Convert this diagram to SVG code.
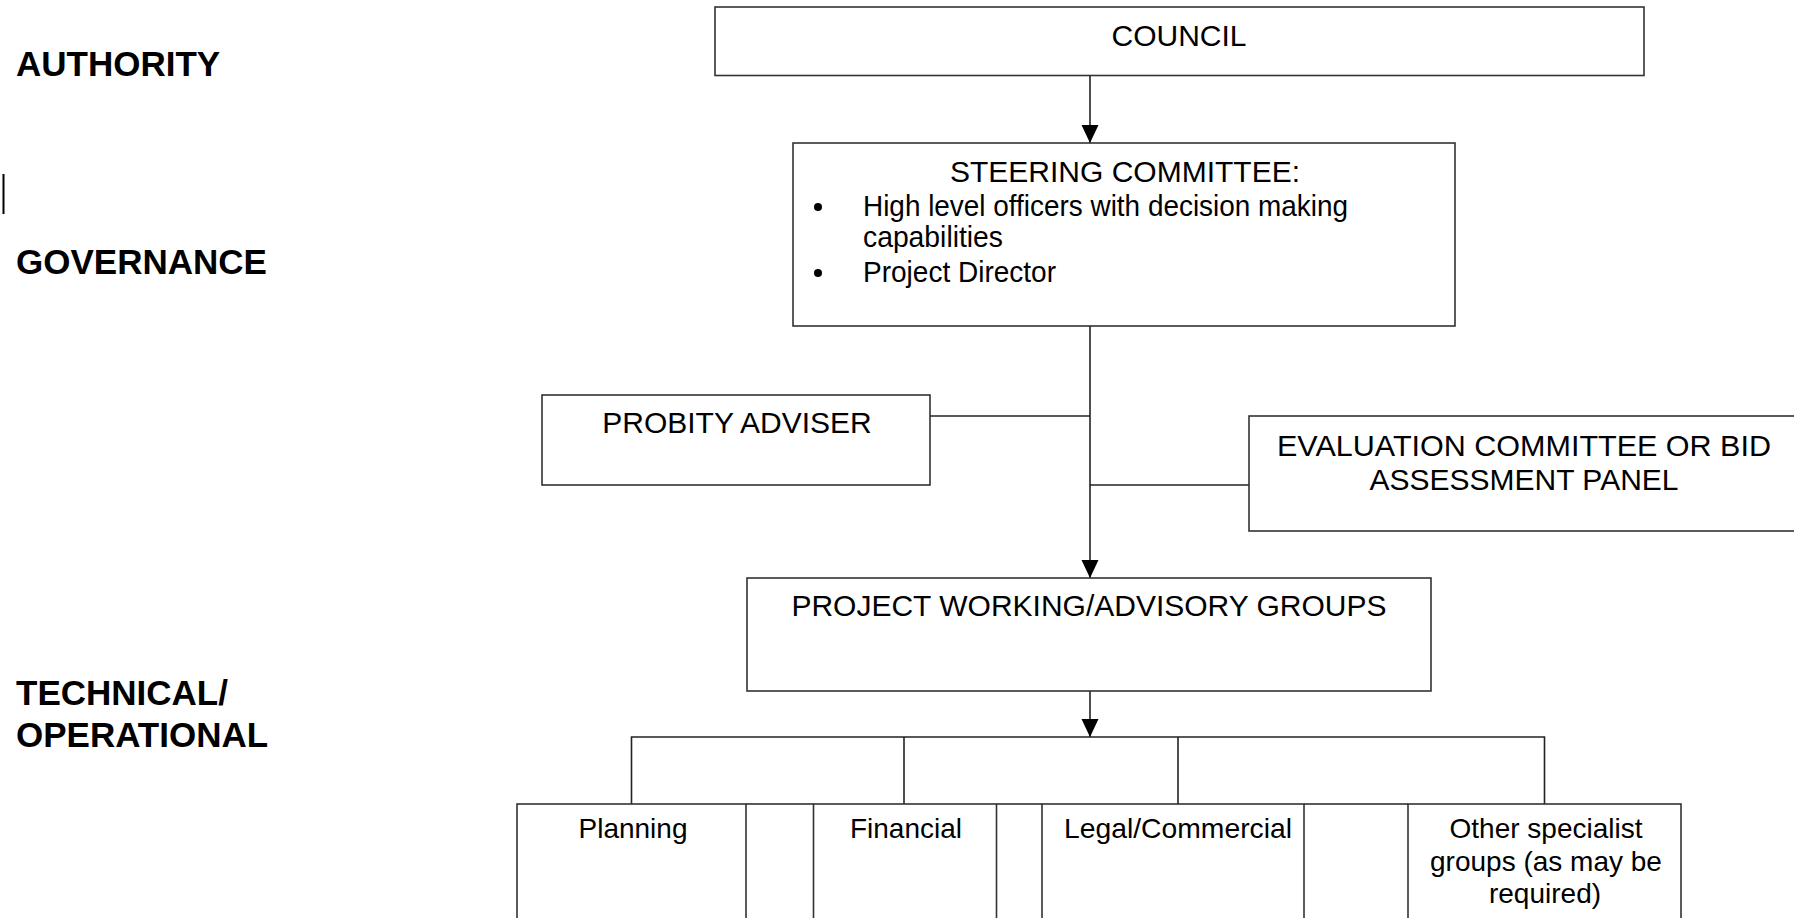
<svg xmlns="http://www.w3.org/2000/svg" width="1794" height="918" viewBox="0 0 1794 918">
<style>
.box{fill:#fff;stroke:#333;stroke-width:1.6}
.ln{fill:none;stroke:#222;stroke-width:1.6}
.t{font-family:"Liberation Sans",Arial,sans-serif;font-size:30px;fill:#000}
.c{text-anchor:middle}
.s{font-size:28px}
.lab{font-family:"Liberation Sans",Arial,sans-serif;font-size:35px;font-weight:bold;fill:#000}
</style>
<defs>
<marker id="arr" markerUnits="userSpaceOnUse" markerWidth="18" markerHeight="20" viewBox="0 0 18 20" refX="18" refY="8.5" orient="auto">
<path d="M0,0 L18,8.5 L0,17 Z" fill="#000"/>
</marker>
</defs>
<g id="labels">
<text class="lab" x="16" y="76">AUTHORITY</text>
<rect x="2.5" y="174" width="2" height="40" fill="#000"/>
<text class="lab" x="16" y="274">GOVERNANCE</text>
<text class="lab" x="16" y="705">TECHNICAL/</text>
<text class="lab" x="16" y="747">OPERATIONAL</text>
</g>
<g id="connectors">
<line class="ln" x1="1090" y1="75.5" x2="1090" y2="143" marker-end="url(#arr)"/>
<line class="ln" x1="1090" y1="326" x2="1090" y2="578" marker-end="url(#arr)"/>
<line class="ln" x1="930" y1="416" x2="1090" y2="416"/>
<line class="ln" x1="1090" y1="485" x2="1249" y2="485"/>
<line class="ln" x1="1090" y1="691" x2="1090" y2="737" marker-end="url(#arr)"/>
<polyline class="ln" points="631.5,804 631.5,737 1544.5,737 1544.5,804"/>
<line class="ln" x1="904" y1="737" x2="904" y2="804"/>
<line class="ln" x1="1178" y1="737" x2="1178" y2="804"/>
</g>
<g id="council">
<rect class="box" x="715" y="7" width="929" height="68.5"/>
<text class="t c" x="1179" y="46">COUNCIL</text>
</g>
<g id="steering">
<rect class="box" x="793" y="143" width="662" height="183"/>
<text class="t c" x="1125" y="182">STEERING COMMITTEE:</text>
<circle cx="818" cy="207" r="4" fill="#000"/>
<text class="t" x="863" y="216" textLength="485" lengthAdjust="spacingAndGlyphs">High level officers with decision making</text>
<text class="t" x="863" y="247" textLength="140" lengthAdjust="spacingAndGlyphs">capabilities</text>
<circle cx="818" cy="273" r="4" fill="#000"/>
<text class="t" x="863" y="282" textLength="193" lengthAdjust="spacingAndGlyphs">Project Director</text>
</g>
<g id="probity">
<rect class="box" x="542" y="395" width="388" height="90"/>
<text class="t c" x="737" y="433">PROBITY ADVISER</text>
</g>
<g id="evaluation">
<rect class="box" x="1249" y="416" width="552" height="115"/>
<text class="t c" x="1524" y="456" textLength="494" lengthAdjust="spacingAndGlyphs">EVALUATION COMMITTEE OR BID</text>
<text class="t c" x="1524" y="490">ASSESSMENT PANEL</text>
</g>
<g id="project">
<rect class="box" x="747" y="578" width="684" height="113"/>
<text class="t c" x="1089" y="616">PROJECT WORKING/ADVISORY GROUPS</text>
</g>
<g id="gaps">
<line class="ln" x1="746" y1="804" x2="813.5" y2="804"/>
<line class="ln" x1="996.5" y1="804" x2="1042" y2="804"/>
<line class="ln" x1="1304" y1="804" x2="1408" y2="804"/>
</g>
<g id="planning">
<rect class="box" x="517" y="804" width="229" height="130"/>
<text class="t s c" x="633" y="838">Planning</text>
</g>
<g id="financial">
<rect class="box" x="813.5" y="804" width="183" height="130"/>
<text class="t s c" x="906" y="838">Financial</text>
</g>
<g id="legal">
<rect class="box" x="1042" y="804" width="262" height="130"/>
<text class="t s c" x="1178" y="838" textLength="228" lengthAdjust="spacingAndGlyphs">Legal/Commercial</text>
</g>
<g id="other">
<rect class="box" x="1408" y="804" width="273" height="130"/>
<text class="t s c" x="1546" y="838">Other specialist</text>
<text class="t s c" x="1546" y="871">groups (as may be</text>
<text class="t s c" x="1545" y="903">required)</text>
</g>
</svg>
